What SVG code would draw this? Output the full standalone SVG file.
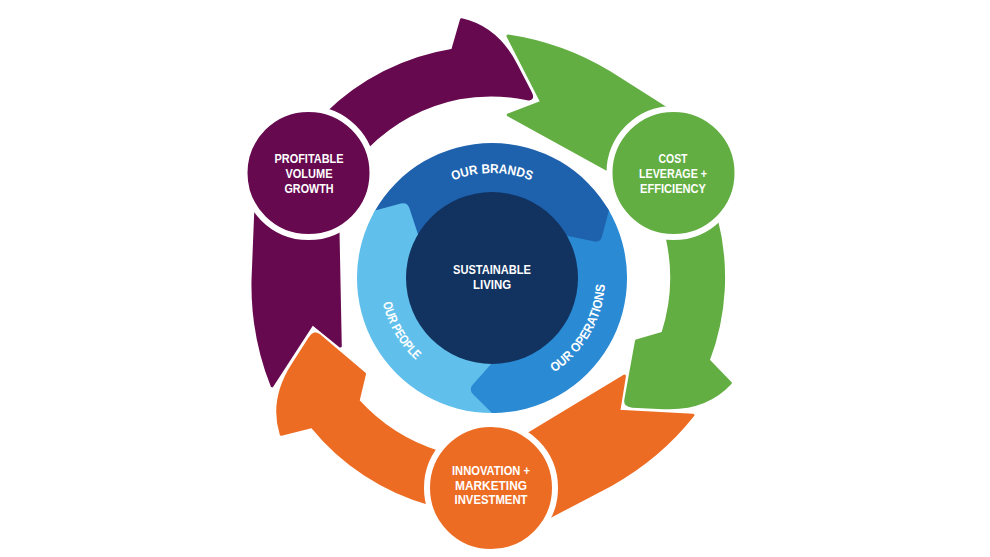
<svg xmlns="http://www.w3.org/2000/svg" width="990" height="557" viewBox="0 0 990 557">
<style>
.lbl{font-family:"Liberation Sans",Arial,sans-serif;font-weight:bold;fill:#ffffff;text-anchor:middle;font-size:13.5px}
.ctr{font-family:"Liberation Sans",Arial,sans-serif;font-weight:bold;fill:#ffffff;text-anchor:middle;font-size:12.5px}
.rt{font-family:"Liberation Sans",Arial,sans-serif;font-weight:bold;fill:#ffffff;font-size:13px}
.node{stroke:#ffffff;stroke-width:6}
.arrow{stroke-linejoin:round;stroke-width:3}
</style>
<defs>
<path id="arrowPlain" d="M272.1,385.8 Q252,335 253,280 L256,205 L326.2,114.2 A233 233 0 0 1 452.7,50.2 L461.5,19.7 Q497,27.7 516.1,65.1 L530.5,93 Q533.8,99.9 527.5,98.7 A184 184 0 0 0 459.1,97.8 A182 182 0 0 0 367.6,146.6 L338,231 L340.3,346.1 L312.5,323.5 Z"/>
<path id="arrowBarb" d="M272.1,385.8 Q252,335 253,280 L256,205 L326.2,114.2 A233 233 0 0 1 452.7,50.2 L461.5,19.7 Q497,27.7 516.1,65.1 L530.5,93 Q533.8,99.9 528.1,101.9 L472,122 L452,103 A182 182 0 0 0 367.6,146.6 L338,231 L340.3,346.1 L312.5,323.5 Z"/>
<path id="seg" d="M374.5,211.5 A135 135 0 0 1 609.5,211.5 L566,236.1 A85 85 0 0 0 418,236.1 Z"/>
<path id="segHead" d="M606.5,206.5 A135 135 0 0 1 608.9,210.5 L602.1,236.3 Q600.4,242.8 593.4,241.3 L565.6,235.5 A85 85 0 0 0 564.1,233 Z"/>
<path id="pBrands" d="M387,278 A105 105 0 0 1 597,278"/>
<path id="pOps" d="M492,391 A113 113 0 0 0 589.9,221.5"/>
<path id="pPeople" d="M395,222 A112 112 0 0 0 492,390"/>
</defs>
<rect width="990" height="557" fill="#ffffff"/>
<g id="connectors">
<use href="#arrowPlain" class="arrow" fill="#66094f" stroke="#66094f"/>
<use href="#arrowBarb" class="arrow" fill="#63ae43" stroke="#63ae43" transform="rotate(120 491 279)"/>
<use href="#arrowBarb" class="arrow" fill="#ed6c23" stroke="#ed6c23" transform="rotate(240 491 279)"/>
</g>
<g id="node-profitable">
<circle class="node" cx="308.5" cy="173" r="64" fill="#66094f"/>
<text class="lbl" x="309" y="163" textLength="69" lengthAdjust="spacingAndGlyphs">PROFITABLE</text>
<text class="lbl" x="309" y="178" textLength="47" lengthAdjust="spacingAndGlyphs">VOLUME</text>
<text class="lbl" x="309" y="193" textLength="49" lengthAdjust="spacingAndGlyphs">GROWTH</text>
</g>
<g id="node-cost">
<circle class="node" cx="673.5" cy="173" r="64" fill="#63ae43"/>
<text class="lbl" x="673" y="163" textLength="29" lengthAdjust="spacingAndGlyphs">COST</text>
<text class="lbl" x="673" y="178" textLength="68" lengthAdjust="spacingAndGlyphs">LEVERAGE +</text>
<text class="lbl" x="673" y="193" textLength="66" lengthAdjust="spacingAndGlyphs">EFFICIENCY</text>
</g>
<g id="node-innovation">
<circle class="node" cx="491" cy="488" r="64" fill="#ed6c23"/>
<text class="lbl" x="491" y="475" textLength="78" lengthAdjust="spacingAndGlyphs">INNOVATION +</text>
<text class="lbl" x="491" y="489.5" textLength="72" lengthAdjust="spacingAndGlyphs">MARKETING</text>
<text class="lbl" x="491" y="504" textLength="73" lengthAdjust="spacingAndGlyphs">INVESTMENT</text>
</g>
<g id="node-sustainable-living">
<use href="#seg" fill="#1e62ae"/>
<use href="#seg" fill="#2a8ad4" transform="rotate(120 492 278)"/>
<use href="#seg" fill="#61bfeb" transform="rotate(240 492 278)"/>
<use href="#segHead" fill="#1e62ae"/>
<use href="#segHead" fill="#2a8ad4" transform="rotate(120 492 278)"/>
<use href="#segHead" fill="#61bfeb" transform="rotate(240 492 278)"/>
<circle cx="492" cy="278" r="86" fill="#12325f"/>
<text class="rt"><textPath href="#pBrands" startOffset="50%" text-anchor="middle" textLength="80" lengthAdjust="spacingAndGlyphs">OUR BRANDS</textPath></text>
<text class="rt"><textPath href="#pOps" startOffset="50%" text-anchor="middle" textLength="105" lengthAdjust="spacingAndGlyphs">OUR OPERATIONS</textPath></text>
<text class="rt"><textPath href="#pPeople" startOffset="50%" text-anchor="middle" textLength="67" lengthAdjust="spacingAndGlyphs">OUR PEOPLE</textPath></text>
<text class="ctr" x="492" y="274" textLength="78" lengthAdjust="spacingAndGlyphs">SUSTAINABLE</text>
<text class="ctr" x="492" y="288.5" textLength="38" lengthAdjust="spacingAndGlyphs">LIVING</text>
</g>
</svg>
